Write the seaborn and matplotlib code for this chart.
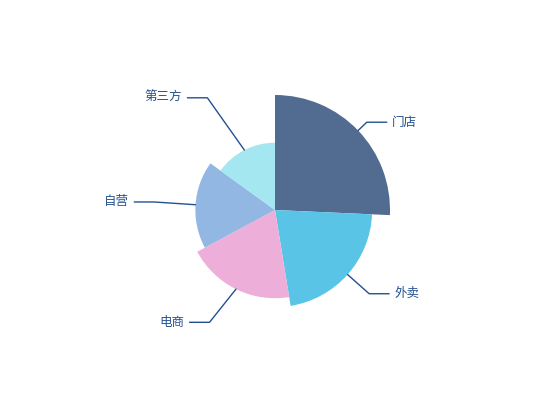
import numpy as np
import matplotlib
matplotlib.use("Agg")
import matplotlib.pyplot as plt
from matplotlib.patches import Wedge
import seaborn as sns

categories = ["门店", "外卖", "电商", "自营", "第三方"]
values = [335, 283, 257, 232, 196]
colors = ["#516b91", "#59c4e6", "#edafda", "#93b7e3", "#a5e7f0"]

sns.set_theme(style="white")
plt.rcParams['font.family'] = ['Noto Sans CJK SC', 'DejaVu Sans']

label_color = "#23518f"
px_per_unit = 115 / max(values)   # outer radius of biggest slice in pixels
# label line elbow radius / angle nudge per slice (label layout spreads them a bit)
elbow_r = [127, 126, 130, 121, 131]
elbow_nudge = [0, 0, -4, 0, 4]
line2 = 20

fig = plt.figure(figsize=(5.5, 4.2), dpi=100)
ax = fig.add_axes([0, 0, 1, 1])
ax.set_xlim(-275, 275)
ax.set_ylim(-210, 210)
ax.set_aspect("equal")
ax.axis("off")

vals = np.array(values, dtype=float)
angles = vals / vals.sum() * 360
cum = np.concatenate([[0], np.cumsum(angles)])

for i, cat in enumerate(categories):
    start = 90 - cum[i]
    end = 90 - cum[i + 1]
    r = vals[i] * px_per_unit
    ax.add_patch(Wedge((0, 0), r, end, start, facecolor=colors[i], edgecolor="none"))

    mid = (start + end) / 2
    m0 = np.deg2rad(mid)
    m1 = np.deg2rad(mid + elbow_nudge[i])
    x0, y0 = r * np.cos(m0), r * np.sin(m0)
    x1, y1 = elbow_r[i] * np.cos(m1), elbow_r[i] * np.sin(m1)
    side = 1 if np.cos(m0) >= 0 else -1
    x2 = x1 + side * line2
    ax.plot([x0, x1, x2], [y0, y1, y1], color=label_color, lw=1)
    ax.text(x2 + side * 5, y1, cat, color=label_color, fontsize=9,
            ha="left" if side > 0 else "right", va="center")

fig.savefig("out.png", dpi=100, facecolor="white")
